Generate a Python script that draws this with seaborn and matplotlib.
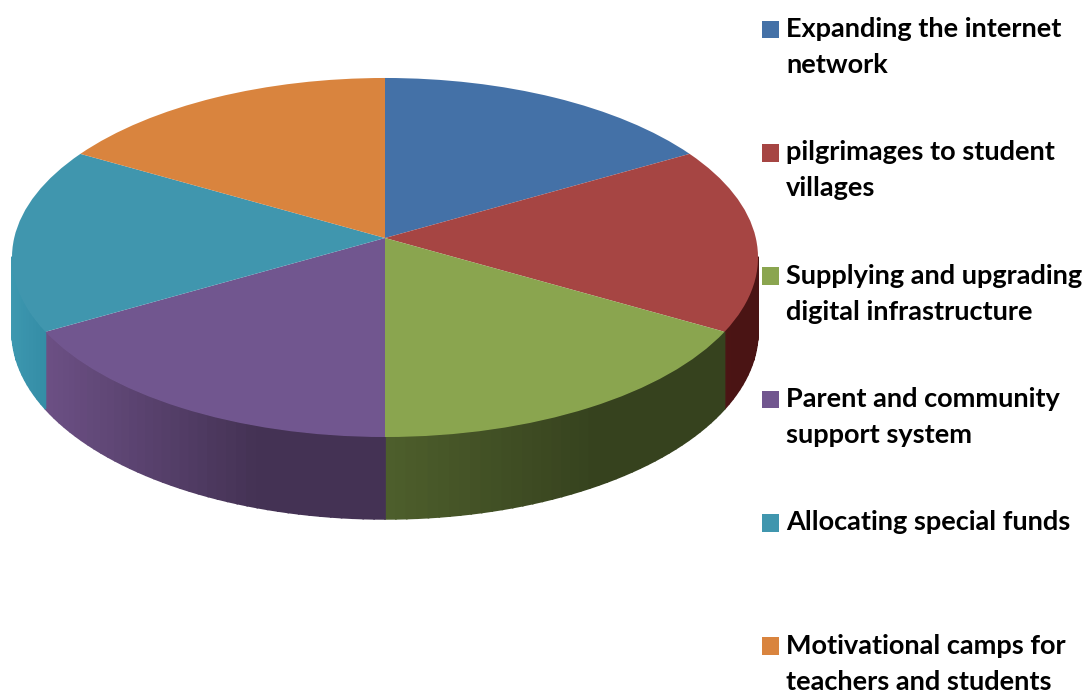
import numpy as np
import matplotlib
matplotlib.use('Agg')
import matplotlib.pyplot as plt
import matplotlib.colors as mcolors
from matplotlib.transforms import Transform
import seaborn as sns

labels = ['Expanding the internet\nnetwork',
          'pilgrimages to student\nvillages',
          'Supplying and upgrading\ndigital infrastructure',
          'Parent and community\nsupport system',
          'Allocating special funds\n ',
          'Motivational camps for\nteachers and students']
shares = [1, 1, 1, 1, 1, 1]

top_colors = ['#4471a7', '#a64543', '#8aa54f', '#71568f', '#4096ae', '#d9843e']
side_left = ['#2c4a6e', '#5c1c1c', '#4e5f2c', '#6c5085', '#3d98b0', '#8a5426']
side_right = ['#2c4a6e', '#4a1414', '#36421e', '#443254', '#328aa3', '#8a5426']

# pie position on the page, in pixels
cx, cy = 385, 238
rx, ry = 370.8, 177.4
tilt = 0.1086
depth = 73


class Perspective(Transform):
    # unit disc lying flat -> page pixels
    input_dims = output_dims = 2

    def transform_non_affine(self, values):
        values = np.asarray(values)
        u, v = values[:, 0], values[:, 1]
        w = 1 + tilt * v
        return np.column_stack([cx + rx * u / w, cy - ry * v / w])


sns.set_theme(style='white')
plt.rcParams['font.family'] = ['Lato', 'DejaVu Sans']

fig = plt.figure(figsize=(10.89, 6.95), dpi=100)
ax = fig.add_axes([0, 0, 1, 1])

wedges, _ = ax.pie(shares, colors=sns.color_palette(top_colors), startangle=90,
                   counterclock=False, radius=1)
ax.set_aspect('auto')
ax.set_xlim(0, 1089)
ax.set_ylim(695, 0)
ax.axis('off')

proj = Perspective()
for w in wedges:
    w.set_transform(proj + ax.transData)
    w.set_linewidth(0)
    w.set_zorder(5)

# side wall, drawn from the same wedge angles
for w, c0, c1 in zip(wedges, side_left, side_right):
    t1, t2 = w.theta1 % 360, w.theta2 % 360
    if t2 <= t1:
        t2 += 360
    angles = np.radians(np.arange(t1, t2 + 1.5, 1.5))
    angles[-1] = np.radians(t2)
    u, v = np.cos(angles), np.sin(angles)
    xy = proj.transform(np.column_stack([u, v]))
    h = depth / (1 + tilt * v)
    x_min, x_max = xy[:, 0].min(), xy[:, 0].max()
    a, b = np.array(mcolors.to_rgb(c0)), np.array(mcolors.to_rgb(c1))
    for i in range(len(angles) - 1):
        # back of the rim is hidden behind the top
        if v[i] > -tilt and v[i + 1] > -tilt:
            continue
        f = np.clip(((xy[i, 0] + xy[i + 1, 0]) / 2 - x_min) / (x_max - x_min) * 1.6, 0, 1)
        col = a + (b - a) * f
        ax.fill([xy[i, 0], xy[i + 1, 0], xy[i + 1, 0], xy[i, 0]],
                [xy[i, 1], xy[i + 1, 1], xy[i + 1, 1] + h[i + 1], xy[i, 1] + h[i]],
                color=col, lw=1.2, zorder=2)

leg = ax.legend(wedges, labels, loc='upper left', bbox_to_anchor=(762 / 1089, 1 - 17 / 695),
                frameon=False, prop={'weight': 'bold', 'size': 19.5},
                handlelength=0.63, handleheight=0.63, handletextpad=0.27,
                labelspacing=2.34, borderaxespad=0, borderpad=0)
for t in leg.get_texts():
    t.set_linespacing(1.6)
    t.set_color('black')
# square sits beside the first line of each label
for handle in leg.legend_handles:
    handle.set_y(handle.get_y() + 13)

fig.savefig('out.png', dpi=100)
